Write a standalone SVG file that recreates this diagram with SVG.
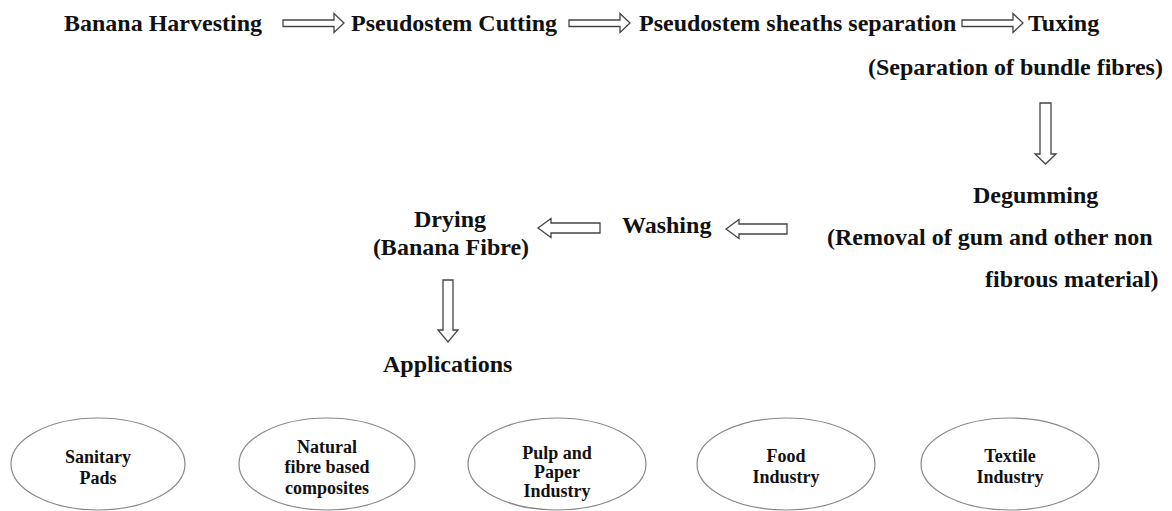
<svg xmlns="http://www.w3.org/2000/svg" width="1172" height="511" viewBox="0 0 1172 511">
<style>
.t{font-family:"Liberation Serif","Times New Roman",serif;font-weight:bold;font-size:24px;fill:#111}
.s{font-family:"Liberation Serif","Times New Roman",serif;font-weight:bold;font-size:18px;fill:#111;text-anchor:middle}
.a{fill:#fff;stroke:#444;stroke-width:1.3;stroke-linejoin:miter}
.e{fill:#fff;stroke:#888;stroke-width:1.2}
</style>
<rect width="1172" height="511" fill="#fff"/>
<g id="connectors">
<polygon class="a" points="283,20 334,20 334,13.5 344,23 334,32.5 334,26.5 283,26.5"/>
<polygon class="a" points="569,20 620,20 620,13.5 630,23 620,32.5 620,26.5 569,26.5"/>
<polygon class="a" points="962,20 1013,20 1013,13.5 1023,23 1013,32.5 1013,26.5 962,26.5"/>
<polygon class="a" points="1040,103 1051,103 1051,154 1056,154 1045.5,164 1035,154 1040,154"/>
<polygon class="a" points="538,228 551,218.5 551,223 600,223 600,233 551,233 551,237.5"/>
<polygon class="a" points="726,229 739,219.5 739,224 787,224 787,234 739,234 739,238.5"/>
<polygon class="a" points="443,280 453,280 453,330 458,330 448,342 438,330 443,330"/>
</g>
<g id="banana-harvesting"><text class="t" x="64" y="31">Banana Harvesting</text></g>
<g id="pseudostem-cutting"><text class="t" x="351" y="31">Pseudostem Cutting</text></g>
<g id="sheaths-separation"><text class="t" x="639" y="31">Pseudostem sheaths separation</text></g>
<g id="tuxing"><text class="t" x="1028" y="31">Tuxing</text><text class="t" x="868" y="75">(Separation of bundle fibres)</text></g>
<g id="degumming"><text class="t" x="973" y="203">Degumming</text><text class="t" x="827" y="245">(Removal of gum and other non</text><text class="t" x="985" y="287">fibrous material)</text></g>
<g id="washing"><text class="t" x="622" y="233">Washing</text></g>
<g id="drying"><text class="t" x="450" y="227" text-anchor="middle">Drying</text><text class="t" x="451" y="255" text-anchor="middle">(Banana Fibre)</text></g>
<g id="applications"><text class="t" x="383" y="372">Applications</text></g>
<g id="sanitary-pads"><ellipse class="e" cx="98" cy="464" rx="87" ry="46"/><text class="s" x="98" y="463">Sanitary</text><text class="s" x="98" y="484">Pads</text></g>
<g id="composites"><ellipse class="e" cx="327" cy="464" rx="88" ry="46"/><text class="s" x="327" y="453">Natural</text><text class="s" x="327" y="473">fibre based</text><text class="s" x="327" y="494">composites</text></g>
<g id="pulp-paper"><ellipse class="e" cx="557" cy="464" rx="89" ry="46"/><text class="s" x="557" y="459">Pulp and</text><text class="s" x="557" y="478">Paper</text><text class="s" x="557" y="497">Industry</text></g>
<g id="food-industry"><ellipse class="e" cx="786" cy="464" rx="89" ry="46"/><text class="s" x="786" y="462">Food</text><text class="s" x="786" y="483">Industry</text></g>
<g id="textile-industry"><ellipse class="e" cx="1010" cy="464" rx="89" ry="46"/><text class="s" x="1010" y="462">Textile</text><text class="s" x="1010" y="483">Industry</text></g>
</svg>
